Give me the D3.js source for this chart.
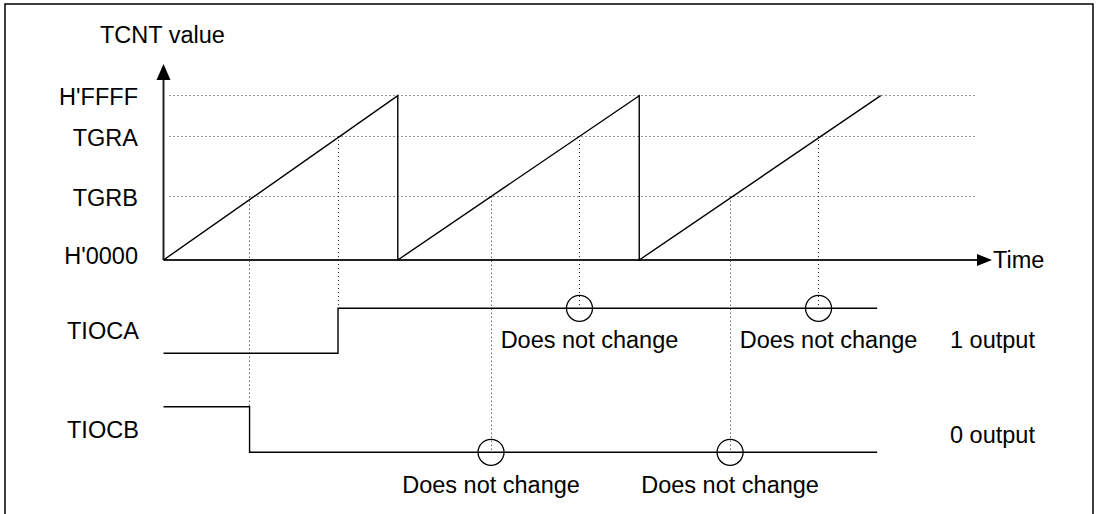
<!DOCTYPE html>
<html>
<head>
<meta charset="utf-8">
<script src="https://cdn.jsdelivr.net/npm/d3@7"></script>
<style>
  body { margin: 0; background: #fff; }
  text { font-family: "Liberation Sans", Arial, sans-serif; font-size: 23.5px; fill: #000; }
</style>
</head>
<body>
<svg class="chart"></svg>
<script>
// TCNT levels (counts)
var levelNames = ["H'0000", "TGRB", "TGRA", "H'FFFF"];
var levelValues = [0, 25250, 49460, 65535];

// sawtooth of the counter, time in ticks
var rampT = [0, 98, 98, 199, 199, 300];
var rampV = [0, 65535, 0, 65535, 0, 65535];

// compare match times
var matchA = [73, 174, 274];
var matchB = [36, 137, 237];

// output pins
var tiocaT = [0, 73, 73, 298.5];
var tiocaV = [0, 0, 1, 1];
var tiocbT = [0, 36, 36, 298.5];
var tiocbV = [1, 1, 0, 0];

var signalNames = ["TIOCA", "TIOCB"];
var outputNames = ["1 output", "0 output"];
var noChangeText = "Does not change";

var width = 1099, height = 514;

var svg = d3.select(".chart")
    .attr("width", width)
    .attr("height", height);

// frame (bottom edge is cut off)
svg.append("rect")
    .attr("x", 5).attr("y", 4)
    .attr("width", 1088).attr("height", 600)
    .attr("fill", "none")
    .attr("stroke", "#000")
    .attr("stroke-width", 1.5);

var x = d3.scaleLinear()
    .domain([0, 300])
    .range([163.5, 880.7]);

var y = d3.scaleLinear()
    .domain([0, 65535])
    .range([260, 95.7]);

// one scale per output row: 0 = low, 1 = high
var yA = d3.scaleLinear().domain([0, 1]).range([353.3, 308.3]);
var yB = d3.scaleLinear().domain([0, 1]).range([452.3, 406.7]);

// snap dotted lines onto pixel centres so the dots stay sharp
function px(v) { return Math.floor(v) + 0.5; }

// dotted level lines
svg.selectAll(".level")
    .data(levelValues.slice(1))
  .enter().append("line")
    .attr("class", "level")
    .attr("x1", x(0) + 6)
    .attr("x2", 977)
    .attr("y1", function(d) { return px(y(d)); })
    .attr("y2", function(d) { return px(y(d)); })
    .attr("stroke", "#222")
    .attr("stroke-width", 1)
    .attr("stroke-dasharray", "1,3");

// level labels
svg.selectAll(".levelLabel")
    .data(levelNames)
  .enter().append("text")
    .attr("class", "levelLabel")
    .attr("x", 138)
    .attr("y", function(d, i) { return y(levelValues[i]) + (i == 0 ? 3.5 : 9.5); })
    .attr("text-anchor", "end")
    .text(function(d) { return d; });

// vertical dotted lines from compare match down to outputs
function drop(times, level, ys, sT, sV) {
  return times.map(function(t) {
    var before = sV[0], after = sV[0];
    for (var k = 0; k < sT.length; k++) {
      if (sT[k] < t) before = sV[k];
      if (sT[k] <= t) after = sV[k];
    }
    return { t: t, y1: y(level), y2: Math.min(ys(before), ys(after)) };
  });
}
var drops = drop(matchA, levelValues[2], yA, tiocaT, tiocaV)
  .concat(drop(matchB, levelValues[1], yB, tiocbT, tiocbV));

svg.selectAll(".drop")
    .data(drops)
  .enter().append("line")
    .attr("class", "drop")
    .attr("x1", function(d) { return px(x(d.t)); })
    .attr("x2", function(d) { return px(x(d.t)); })
    .attr("y1", function(d) { return d.y1; })
    .attr("y2", function(d) { return d.y2; })
    .attr("stroke", "#222")
    .attr("stroke-width", 1)
    .attr("stroke-dasharray", "1,3");

// axes with arrows
svg.append("line")
    .attr("x1", x(0)).attr("x2", x(0))
    .attr("y1", y(0)).attr("y2", 79)
    .attr("stroke", "#222").attr("stroke-width", 2);
svg.append("path")
    .attr("d", "M" + (x(0) - 7) + ",80L" + (x(0) + 7) + ",80L" + x(0) + ",64Z")
    .attr("fill", "#000");

svg.append("line")
    .attr("x1", x(0)).attr("x2", 978)
    .attr("y1", y(0)).attr("y2", y(0))
    .attr("stroke", "#222").attr("stroke-width", 2);
svg.append("path")
    .attr("d", "M977," + (y(0) - 6) + "L977," + (y(0) + 6) + "L992," + y(0) + "Z")
    .attr("fill", "#000");

svg.append("text")
    .attr("x", 100).attr("y", 43)
    .text("TCNT value");
svg.append("text")
    .attr("x", 993).attr("y", 267.5)
    .text("Time");

// counter sawtooth
var ramp = d3.line()
    .x(function(d, i) { return x(rampT[i]); })
    .y(function(d) { return y(d); });
svg.append("path")
    .attr("d", ramp(rampV))
    .attr("fill", "none")
    .attr("stroke", "#000")
    .attr("stroke-width", 1.4);

// output waveforms
var waveA = d3.line()
    .x(function(d, i) { return x(tiocaT[i]); })
    .y(function(d) { return yA(d); });
var waveB = d3.line()
    .x(function(d, i) { return x(tiocbT[i]); })
    .y(function(d) { return yB(d); });
svg.append("path")
    .attr("d", waveA(tiocaV))
    .attr("fill", "none").attr("stroke", "#000").attr("stroke-width", 1.4);
svg.append("path")
    .attr("d", waveB(tiocbV))
    .attr("fill", "none").attr("stroke", "#000").attr("stroke-width", 1.4);

svg.selectAll(".signal")
    .data(signalNames)
  .enter().append("text")
    .attr("class", "signal")
    .attr("x", 67)
    .attr("y", function(d, i) { return i == 0 ? 339.3 : 438.3; })
    .text(function(d) { return d; });

svg.selectAll(".output")
    .data(outputNames)
  .enter().append("text")
    .attr("class", "output")
    .attr("x", 950)
    .attr("y", function(d, i) { return i == 0 ? 348.3 : 443.3; })
    .text(function(d) { return d; });

// "does not change" marks
var marks = matchA.slice(1).map(function(t) { return { t: t, cy: yA(1), ty: 348.3, dx: 10 }; })
  .concat(matchB.slice(1).map(function(t) { return { t: t, cy: yB(0), ty: 493.3, dx: 0 }; }));

svg.selectAll(".mark")
    .data(marks)
  .enter().append("circle")
    .attr("class", "mark")
    .attr("cx", function(d) { return x(d.t); })
    .attr("cy", function(d) { return d.cy; })
    .attr("r", 13)
    .attr("fill", "none")
    .attr("stroke", "#000")
    .attr("stroke-width", 1.3);

svg.selectAll(".markLabel")
    .data(marks)
  .enter().append("text")
    .attr("class", "markLabel")
    .attr("x", function(d) { return x(d.t) + d.dx; })
    .attr("y", function(d) { return d.ty; })
    .attr("text-anchor", "middle")
    .text(noChangeText);
</script>
</body>
</html>
